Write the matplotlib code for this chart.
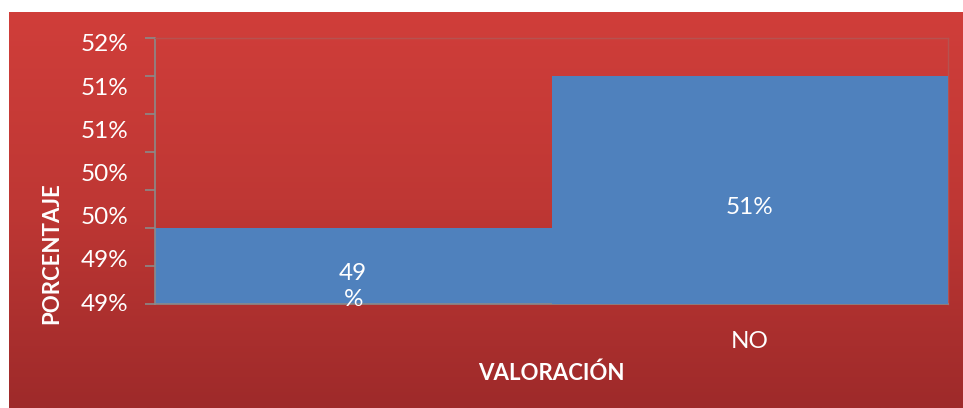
# Bar chart - VALORACION vs PORCENTAJE (Excel-style red background)

import numpy as np
import matplotlib
matplotlib.use("Agg")
import matplotlib.pyplot as plt
from matplotlib.colors import LinearSegmentedColormap

plt.rcParams['font.family'] = ['Lato', 'DejaVu Sans']

# Data
categories = ["", "NO"]
values = [49, 51]
value_labels = ["49\n%", "51%"]
ytick_labels = ["49%", "49%", "50%", "50%", "51%", "51%", "52%"]

y_min, y_max, y_step = 48, 51.5, 0.5

W, H = 963, 408
fig = plt.figure(figsize=(W / 100, H / 100), dpi=100)
fig.patch.set_facecolor("white")

# red gradient chart area
bg = fig.add_axes([9 / W, 0, (W - 9) / W, (H - 12) / H], zorder=0)
grad = np.linspace(0, 1, 256).reshape(-1, 1)
cmap = LinearSegmentedColormap.from_list("red", ["#D03E3A", "#BE3734", "#9E2A2A"])
bg.imshow(grad, aspect="auto", cmap=cmap, extent=[0, 1, 0, 1], origin="upper")
bg.set_axis_off()

# plot area
left, right, top, bottom = 155, 948, 38.3, 304.3
ax = fig.add_axes([left / W, (H - bottom) / H, (right - left) / W, (bottom - top) / H], zorder=2)
ax.patch.set_alpha(0)

x = np.arange(len(categories))
for i, v in enumerate(values):
    ax.bar(x[i], v - y_min, bottom=y_min, width=1.0, color="#4F81BD",
           zorder=2 if i == 0 else 3)

ax.set_xlim(-0.5, len(categories) - 0.5)
ax.set_ylim(y_min, y_max)

fs = 17.5
# data labels
offsets = [0.26, 0.22]
for i, (v, lab) in enumerate(zip(values, value_labels)):
    ax.text(x[i], (y_min + v) / 2 - offsets[i], lab, ha="center", va="center",
            color="white", fontsize=fs, linespacing=1.3, zorder=4)

# y axis: tick marks on the grid, labels spread as in the original
ax.set_yticks(np.arange(y_min, y_max + 0.01, y_step))
ax.set_yticklabels([])
ax.set_yticks(np.linspace(48.03, 51.44, len(ytick_labels)), minor=True)
ax.set_yticklabels(ytick_labels, minor=True)
ax.tick_params(axis="y", which="major", length=7, width=1.2, color="#8A8A8A", direction="out")
ax.tick_params(axis="y", which="minor", length=0, pad=19.5, labelsize=fs, labelcolor="white")

ax.set_xticks(x)
ax.set_xticklabels(categories)
ax.tick_params(axis="x", length=0, pad=19, labelsize=fs, labelcolor="white")

for s in ["left", "bottom"]:
    ax.spines[s].set_color("#8A8A8A")
    ax.spines[s].set_linewidth(1.2)
for s in ["top", "right"]:
    ax.spines[s].set_color("#B65250")
    ax.spines[s].set_linewidth(1.0)

ax.set_xlabel("VALORACIÓN", fontsize=16, fontweight="bold", color="white", va="center")
ax.xaxis.set_label_coords(0.5, (bottom - 373) / (bottom - top))
ax.set_ylabel("PORCENTAJE", fontsize=16, fontweight="bold", color="white", va="center")
ax.yaxis.set_label_coords((52 - left) / (right - left), (bottom - 253) / (bottom - top))

fig.savefig("out.png", dpi=100)
